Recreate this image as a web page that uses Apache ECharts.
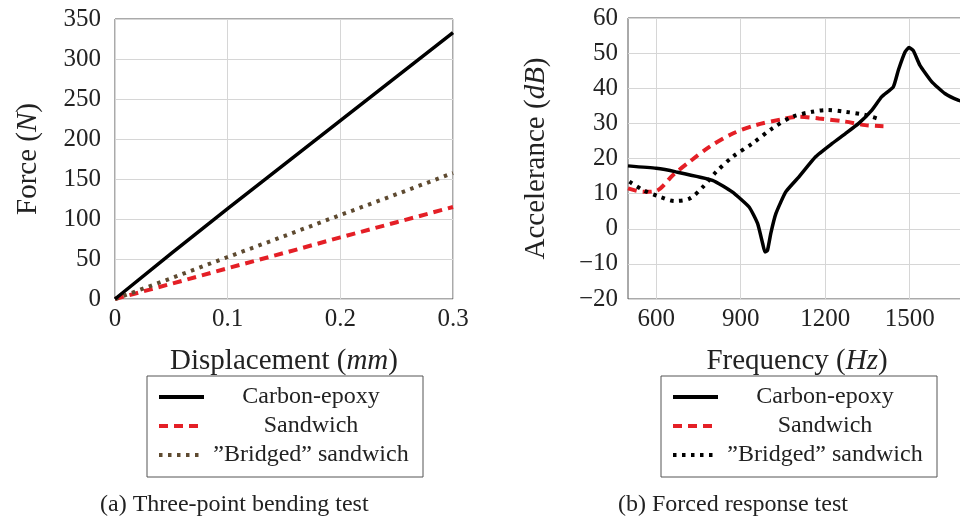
<!DOCTYPE html>
<html>
<head>
<meta charset="utf-8">
<script src="https://cdn.jsdelivr.net/npm/echarts@6/dist/echarts.min.js"></script>
<style>
  html, body { margin: 0; padding: 0; background: #fff; }
  #main { width: 960px; height: 521px; }
</style>
</head>
<body>
<div id="main"></div>
<script>
// (a) Three-point bending test
const bendDisp     = [0, 0.05, 0.1, 0.15, 0.2, 0.25, 0.3];
const bendCarbon   = [0, 57, 113, 168, 223, 278, 333];
const bendSandwich = [0, 19, 38.5, 57.5, 77, 96, 115];
const bendBridged  = [0, 26, 52.5, 78.5, 105, 131, 157.5];

// (b) Forced response test
const frqCarbon = [500, 600, 670, 800, 870, 930, 960, 978, 986, 995, 1007, 1025, 1060, 1107, 1166, 1225, 1272, 1319, 1366, 1401, 1442, 1460, 1484, 1498, 1513, 1536, 1578, 1625, 1672, 1700];
const accCarbon = [17.9, 17.2, 16.2, 13.8, 10.5, 6.2, 1.5, -4.2, -6.6, -6.2, -1.3, 4.3, 10.5, 14.8, 20.5, 24.3, 27.1, 30.0, 33.8, 37.6, 40.4, 45.2, 50.4, 51.6, 50.7, 46.6, 41.9, 38.5, 36.6, 36.0];
const frqSandwich = [500, 554, 601, 660, 719, 789, 872, 954, 1048, 1107, 1178, 1272, 1342, 1407];
const accSandwich = [11.5, 10.5, 10.8, 15.3, 19.1, 23.3, 27.1, 29.5, 31.2, 31.9, 31.4, 30.5, 29.5, 29.2];
const frqBridged = [505, 554, 613, 666, 719, 766, 813, 872, 942, 1013, 1084, 1154, 1207, 1272, 1342, 1384];
const accBridged = [13.4, 11.0, 9.1, 7.9, 8.6, 11.9, 16.2, 20.5, 24.3, 28.6, 31.9, 33.3, 33.8, 33.3, 32.4, 31.4];

const freqTicks = [600, 900, 1200, 1500];

const FONT = "'Liberation Serif', 'DejaVu Serif', serif";
const TXT = '#222';
const RED = '#e41f26';
const BROWN = '#5e4a30';
const ZW = '\u200B'; // keeps the two legends apart

const zip = (xs, ys) => xs.map((x, i) => [x, ys[i]]);
const minus = v => (v < 0 ? '\u2212' + Math.abs(v) : String(v));

const tickLabel = { fontFamily: FONT, fontSize: 25, color: TXT };
const nameStyle = {
  fontFamily: FONT, fontSize: 29, color: TXT,
  rich: { i: { fontFamily: FONT, fontSize: 29, fontStyle: 'italic', color: TXT } }
};
const grid = { show: true, borderColor: '#555', borderWidth: 1, backgroundColor: 'transparent', outerBoundsMode: 'none' };
const split = { show: true, lineStyle: { color: '#d6d6d6', width: 1 } };

function legendOf(idx, left) {
  return {
    orient: 'vertical',
    left: left,
    top: 376,
    width: 254,
    padding: [9, 10, 10, 10],
    itemWidth: 45,
    itemHeight: 14,
    itemGap: 5,
    borderColor: '#555',
    borderWidth: 1,
    selectedMode: false,
    itemStyle: { opacity: 0 },
    lineStyle: { width: 4 },
    data: idx === 0
      ? ['Carbon-epoxy', 'Sandwich', '\u201DBridged\u201D sandwich']
      : ['Carbon-epoxy' + ZW, 'Sandwich' + ZW, '\u201DBridged\u201D sandwich' + ZW],
    formatter: name => '{c|' + name.replace(ZW, '') + '}',
    textStyle: {
      rich: { c: { width: 204, align: 'center', fontFamily: FONT, fontSize: 24, lineHeight: 24, color: TXT } }
    }
  };
}

const chart = echarts.init(document.getElementById('main'));

const option = {
  animation: false,
  title: [
    { text: '(a) Three-point bending test', left: 100, top: 493, padding: 0,
      textStyle: { fontFamily: FONT, fontSize: 24, fontWeight: 'normal', color: TXT } },
    { text: '(b) Forced response test', left: 618, top: 493, padding: 0,
      textStyle: { fontFamily: FONT, fontSize: 24, fontWeight: 'normal', color: TXT } }
  ],
  grid: [
    { ...grid, left: 115, top: 19, width: 338, height: 280 },
    { ...grid, left: 628, top: 18, width: 338, height: 281 }
  ],
  legend: [legendOf(0, 147), legendOf(1, 661)],
  xAxis: [
    {
      gridIndex: 0, type: 'value', min: 0, max: 0.3, interval: 0.1,
      name: 'Displacement ({i|mm})', nameLocation: 'middle', nameGap: 48, nameTextStyle: nameStyle,
      axisLine: { show: false }, axisTick: { show: false },
      axisLabel: { ...tickLabel, margin: 8 },
      splitLine: split
    },
    {
      gridIndex: 1, type: 'value', min: 500, max: 1700,
      name: 'Frequency ({i|Hz})', nameLocation: 'middle', nameGap: 48, nameTextStyle: nameStyle,
      axisLine: { show: false },
      axisTick: { show: false, customValues: freqTicks },
      axisLabel: { ...tickLabel, margin: 8, customValues: freqTicks, formatter: v => String(v) },
      splitLine: split
    }
  ],
  yAxis: [
    {
      gridIndex: 0, type: 'value', min: 0, max: 350, interval: 50,
      name: 'Force ({i|N})', nameLocation: 'middle', nameGap: 72, nameRotate: 90, nameTextStyle: nameStyle,
      axisLine: { show: false }, axisTick: { show: false },
      axisLabel: { ...tickLabel, margin: 14 },
      splitLine: split
    },
    {
      gridIndex: 1, type: 'value', min: -20, max: 60, interval: 10,
      name: 'Accelerance ({i|dB})', nameLocation: 'middle', nameGap: 77, nameRotate: 90, nameTextStyle: nameStyle,
      axisLine: { show: false }, axisTick: { show: false },
      axisLabel: { ...tickLabel, margin: 10, formatter: minus },
      splitLine: split
    }
  ],
  series: [
    {
      name: 'Carbon-epoxy', type: 'line', xAxisIndex: 0, yAxisIndex: 0, symbol: 'none',
      data: zip(bendDisp, bendCarbon), z: 5,
      lineStyle: { color: '#000', width: 3.5 }, itemStyle: { color: '#000' }
    },
    {
      name: 'Sandwich', type: 'line', xAxisIndex: 0, yAxisIndex: 0, symbol: 'none',
      data: zip(bendDisp, bendSandwich),
      lineStyle: { color: RED, width: 4, type: [9, 6] }, itemStyle: { color: RED }
    },
    {
      name: '\u201DBridged\u201D sandwich', type: 'line', xAxisIndex: 0, yAxisIndex: 0, symbol: 'none',
      data: zip(bendDisp, bendBridged),
      lineStyle: { color: BROWN, width: 4, type: [3.5, 5.5] }, itemStyle: { color: BROWN }
    },
    {
      name: 'Carbon-epoxy' + ZW, type: 'line', xAxisIndex: 1, yAxisIndex: 1, symbol: 'none',
      data: zip(frqCarbon, accCarbon), smooth: 0.15, z: 5,
      lineStyle: { color: '#000', width: 3.5 }, itemStyle: { color: '#000' }
    },
    {
      name: 'Sandwich' + ZW, type: 'line', xAxisIndex: 1, yAxisIndex: 1, symbol: 'none',
      data: zip(frqSandwich, accSandwich), smooth: 0.3,
      lineStyle: { color: RED, width: 4, type: [9, 6] }, itemStyle: { color: RED }
    },
    {
      name: '\u201DBridged\u201D sandwich' + ZW, type: 'line', xAxisIndex: 1, yAxisIndex: 1, symbol: 'none',
      data: zip(frqBridged, accBridged), smooth: 0.3,
      lineStyle: { color: '#000', width: 4, type: [3.5, 5.5] }, itemStyle: { color: '#000' }
    }
  ]
};

chart.setOption(option);
</script>
</body>
</html>
